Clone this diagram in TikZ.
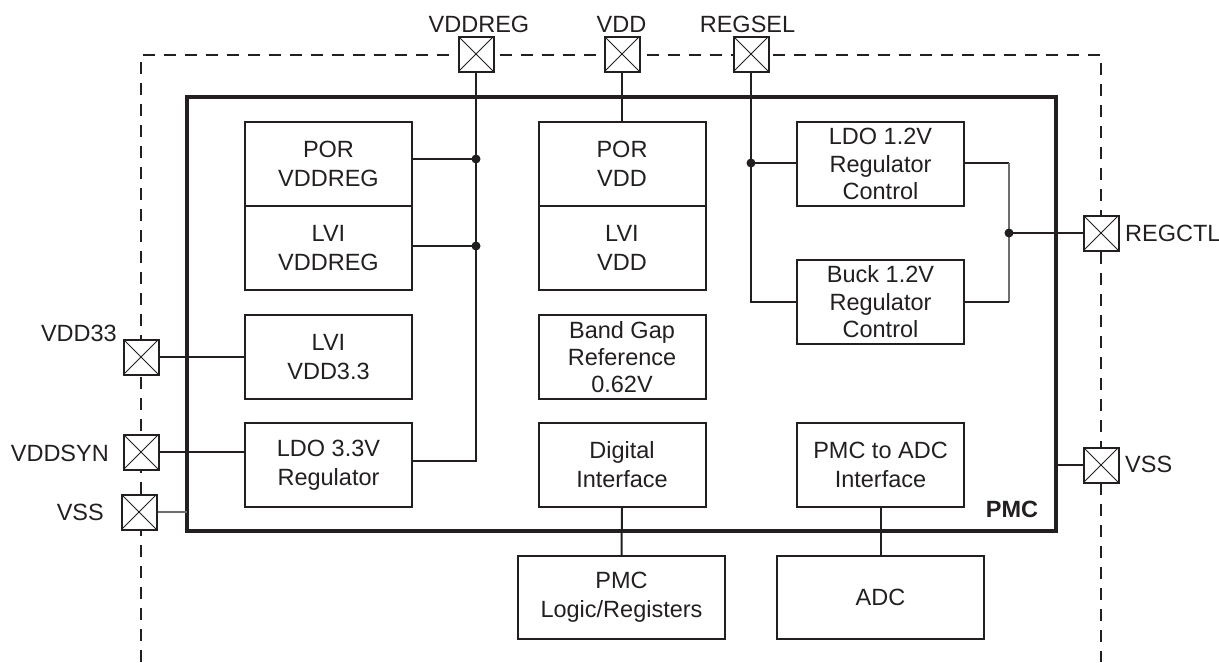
\documentclass[tikz,border=0pt]{standalone}
\usepackage{fontspec}
\setmainfont{Liberation Sans}
\definecolor{ink}{HTML}{231F20}
\definecolor{wire}{HTML}{6E6E6E}
\begin{document}
\begin{tikzpicture}[x=1pt,y=-1pt,
  every node/.style={font=\fontsize{23.5}{29}\selectfont, text=ink, inner sep=0pt},
  blk/.style={draw=ink, line width=2pt, minimum width=167pt, minimum height=84pt, align=center},
  big/.style={blk, minimum width=207pt, minimum height=83pt},
  pmcbox/.style={draw=ink, line width=3.3pt, minimum width=869pt, minimum height=434pt},
  pad/.style={draw=ink, fill=white, line width=2pt, minimum size=35pt,
    path picture={\draw[ink, line width=0.9pt] (path picture bounding box.north west) -- (path picture bounding box.south east)
      (path picture bounding box.south west) -- (path picture bounding box.north east);}},
  wireline/.style={draw=ink, line width=2pt},
  greyline/.style={draw=wire, line width=2pt},
  dot/.style={circle, fill=ink, minimum size=9pt, inner sep=0pt},
  boundary/.style={draw=ink, line width=2pt, dash pattern=on 12pt off 9pt},
  padlabel/.style={anchor=base}
]
\useasboundingbox (0,0) rectangle (1219,662);
% outer dashed boundary
\draw[boundary] (141,662) -- (141,55) -- (1101,55) -- (1101,662);

% PMC box
\node[pmcbox] (pmc) at (621.5,314) {};
\node[font=\fontsize{23.5}{29}\selectfont\bfseries, anchor=base] (pmclbl) at (1012,517) {PMC};

% blocks
\node[blk] (porreg) at (328.5,164) {POR\\VDDREG};
\node[blk] (lvireg) at (328.5,248) {LVI\\VDDREG};
\node[blk] (lvi33) at (328.5,357) {LVI\\VDD3.3};
\node[blk] (ldo33) at (328.5,465) {LDO 3.3V\\Regulator};
\node[blk] (porvdd) at (622,164) {POR\\VDD};
\node[blk] (lvivdd) at (622,248) {LVI\\VDD};
\node[blk, font=\fontsize{23.5}{27}\selectfont] (bandgap) at (622,357) {Band Gap\\Reference\\0.62V};
\node[blk] (digif) at (622,465) {Digital\\Interface};
\node[blk, font=\fontsize{23.5}{27.5}\selectfont] (ldo12) at (880.5,164) {LDO 1.2V\\Regulator\\Control};
\node[blk, font=\fontsize{23.5}{27.5}\selectfont] (buck) at (880.5,302) {Buck 1.2V\\Regulator\\Control};
\node[blk] (pmcadc) at (880.5,465) {PMC to ADC\\Interface};
\node[big] (pmclogic) at (621.5,597.5) {PMC\\Logic/Registers};
\node[big] (adc) at (880.5,597.5) {ADC};

% junction coordinates
\coordinate (j1) at (476,159);
\coordinate (j2) at (476,246);
\coordinate (j3) at (476,461);
\coordinate (r1) at (751,163);
\coordinate (r2) at (751,302);
\coordinate (c1) at (1009,163);
\coordinate (c2) at (1009,302);
\coordinate (c3) at (1009,233);
\coordinate (s1) at (245,452);
\coordinate (vl) at (187,512);
\coordinate (vr) at (1056,465);

% pads
\node[pad] (pVDDREG) at (476,54) {};
\node[pad] (pVDD) at (622,54) {};
\node[pad] (pREGSEL) at (751,54) {};
\node[pad] (pVDD33) at (141,357) {};
\node[pad] (pVDDSYN) at (141,452) {};
\node[pad] (pVSSL) at (139,512) {};
\node[pad] (pREGCTL) at (1101,233) {};
\node[pad] (pVSSR) at (1101,465) {};

% pad labels
\node[padlabel] (lVDDREG) at (479,32) {VDDREG};
\node[padlabel] (lVDD) at (621.5,32) {VDD};
\node[padlabel] (lREGSEL) at (747.5,32) {REGSEL};
\node[anchor=base east] (lVDD33) at (117,341) {VDD33};
\node[anchor=base east] (lVDDSYN) at (109,461) {VDDSYN};
\node[anchor=base east] (lVSSL) at (104,520) {VSS};
\node[anchor=base west] (lREGCTL) at (1125,241) {REGCTL};
\node[anchor=base west] (lVSSR) at (1125,472) {VSS};

% connectors
\draw[wireline] (pVDDREG.south) -- (j3) -- (ldo33.east |- j3);
\draw[wireline] (porreg.east |- j1) -- (j1);
\draw[wireline] (lvireg.east |- j2) -- (j2);
\node[dot] (d1) at (j1) {};
\node[dot] (d2) at (j2) {};
\draw[wireline] (pVDD.south) -- (porvdd.north);
\draw[wireline] (pREGSEL.south) -- (r2) -- (buck.west |- r2);
\draw[wireline] (r1) -- (ldo12.west |- r1);
\node[dot] (d3) at (r1) {};
\draw[wireline] (ldo12.east |- c1) -- (c1);
\draw[greyline] (c1) -- (c2);
\draw[wireline] (c2) -- (buck.east |- c2);
\draw[wireline] (c3) -- (pREGCTL.west);
\node[dot] (d4) at (c3) {};
\draw[wireline] (pVDD33.east) -- (lvi33.west);
\draw[wireline] (pVDDSYN.east) -- (s1);
\draw[greyline] (pVSSL.east) -- (vl);
\draw[wireline] (vr) -- (pVSSR.west);
\draw[wireline] (digif.south) -- (pmclogic.north);
\draw[wireline] (pmcadc.south) -- (adc.north);
\end{tikzpicture}
\end{document}
